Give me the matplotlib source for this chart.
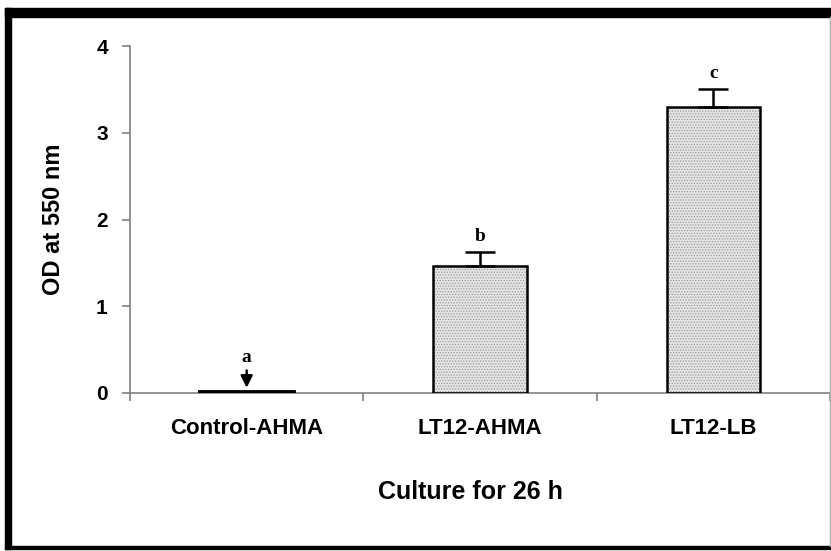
import matplotlib
matplotlib.use("Agg")
import matplotlib.pyplot as plt
from matplotlib.patches import Rectangle
from matplotlib.lines import Line2D

categories = ["Control-AHMA", "LT12-AHMA", "LT12-LB"]
values = [0.01, 1.46, 3.30]
errors = [0.0, 0.16, 0.20]
letters = ["a", "b", "c"]
yticks = [0, 1, 2, 3, 4]

plt.rcParams['font.family'] = ['Liberation Sans', 'DejaVu Sans']
plt.rcParams['hatch.linewidth'] = 0.6

fig = plt.figure(figsize=(8.31, 5.51), dpi=100)
ax = fig.add_axes([130/831, 1-393/551, 700/831, 347/551])

x = list(range(len(categories)))
width = 0.4
# textured fill
ax.bar(x[1:], values[1:], width=width, color='#e4e4e4', edgecolor='#9a9a9a',
       hatch='......', linewidth=0, zorder=2)
# outlines
ax.bar(x[1:], values[1:], width=width, fill=False, edgecolor='black',
       linewidth=1.8, zorder=3)
# control bar (near zero) as thick line
ax.bar(x[:1], values[:1], width=width, color='black', edgecolor='black',
       linewidth=3.5, zorder=3)
ax.errorbar(x[1:], values[1:], yerr=[[0, 0], errors[1:]], fmt='none',
            ecolor='black', elinewidth=1.8, capsize=11, capthick=1.8, zorder=4)

# significance letters
for i, (v, e, t) in enumerate(zip(values, errors, letters)):
    if i == 0:
        ax.annotate('', xy=(i, v + 0.05), xytext=(i, v + 0.25),
                    arrowprops=dict(arrowstyle='-|>,head_length=0.5,head_width=0.25',
                                    color='black', lw=1.8,
                                    mutation_scale=14, shrinkA=0, shrinkB=0),
                    zorder=5)
        ax.text(i, v + 0.40, t, ha='center', va='center', fontsize=14,
                fontweight='bold', family='Liberation Serif')
    else:
        ax.text(i, v + e + 0.18, t, ha='center', va='center', fontsize=14,
                fontweight='bold', family='Liberation Serif')

ax.set_xlim(-0.5, 2.5)
ax.set_ylim(0, 4)
ax.set_yticks(yticks)
ax.set_yticklabels([str(t) for t in yticks], fontsize=15, fontweight='bold')
ax.set_xticks(x)
ax.set_xticklabels(categories, fontsize=16, fontweight='bold')
ax.tick_params(axis='x', which='major', length=0, pad=18)
ax.set_xticks([-0.5, 0.5, 1.5, 2.5], minor=True)
ax.tick_params(axis='x', which='minor', length=6, color='#808080', width=1.2)
ax.tick_params(axis='y', length=6, color='#808080', width=1.2, pad=10)

for s in ['top', 'right']:
    ax.spines[s].set_visible(False)
for s in ['left', 'bottom']:
    ax.spines[s].set_color('#808080')
    ax.spines[s].set_linewidth(1.2)

ax.set_ylabel('OD at 550 nm', fontsize=17, fontweight='bold', labelpad=22)
ax.set_xlabel('Culture for 26 h', fontsize=18, fontweight='bold')
ax.xaxis.set_label_coords((470 - 130) / 700, -(492 - 393) / 347)
ax.xaxis.label.set_va('center')

# outer frame
fig.patches.append(Rectangle((5/831, 1-549/551), 6/831, 541/551,
                             transform=fig.transFigure, color='black', zorder=0))
fig.patches.append(Rectangle((5/831, 1-17/551), 826/831, 9/551,
                             transform=fig.transFigure, color='black', zorder=0))
fig.patches.append(Rectangle((5/831, 1-549/551), 826/831, 3/551,
                             transform=fig.transFigure, color='black', zorder=0))
fig.lines.append(Line2D([830/831, 830/831], [1-546/551, 1-17/551],
                        transform=fig.transFigure, color='#b0b0b0', lw=1))

fig.savefig('out.png', dpi=100)
